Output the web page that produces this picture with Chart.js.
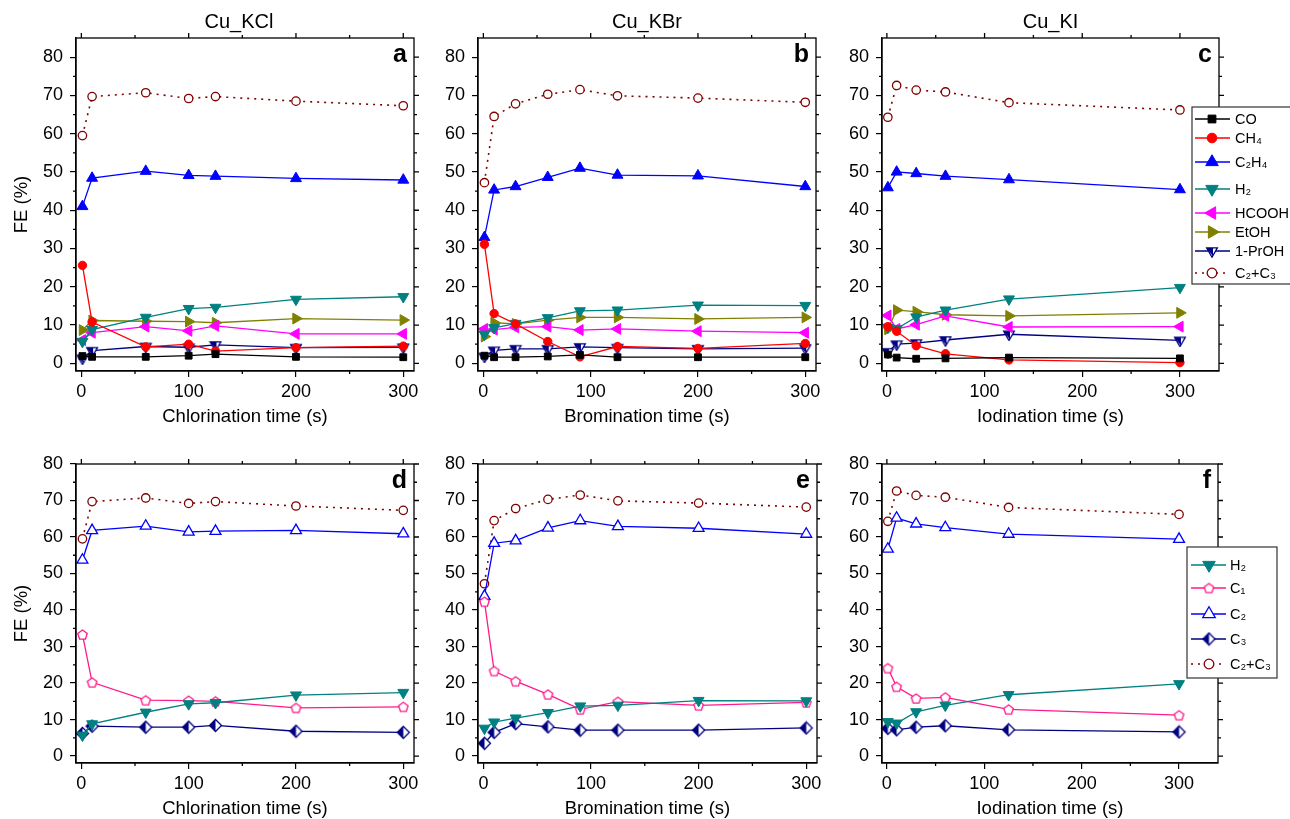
<!DOCTYPE html>
<html>
<head>
<meta charset="utf-8">
<script src="https://cdn.jsdelivr.net/npm/chart.js@4.4.1/dist/chart.umd.min.js"></script>
<style>
  html, body { margin: 0; padding: 0; background: #fff; }
  #fig { position: relative; width: 1290px; height: 819px; overflow: hidden; }
  #fig canvas { position: absolute; }
</style>
</head>
<body>
<div id="fig"></div>
<script>
// ---- data ----
const timeKCl = [1, 10, 60, 100, 125, 200, 300];
const timeKBr = [1, 10, 30, 60, 90, 125, 200, 300];
const timeKI = [1, 10, 30, 60, 125, 300];

const xTickValues = [0, 100, 200, 300];
const xTickLabels = ['0', '100', '200', '300'];
const xMinorValues = [50, 150, 250];
const yTickValues = [0, 10, 20, 30, 40, 50, 60, 70, 80];
const yTickLabels = ['0', '10', '20', '30', '40', '50', '60', '70', '80'];
const yMinorValues = [5, 15, 25, 35, 45, 55, 65, 75];

// Cu_KCl
const kclCO = [1.9, 1.7, 1.7, 2.0, 2.4, 1.7, 1.6];
const kclCH4 = [25.6, 10.8, 4.3, 5.0, 3.2, 4.1, 4.5];
const kclC2H4 = [41.0, 48.4, 50.2, 49.1, 48.9, 48.3, 47.9];
const kclH2 = [5.7, 8.8, 12.0, 14.3, 14.6, 16.7, 17.4];
const kclHCOOH = [6.1, 8.0, 9.6, 8.5, 9.8, 7.7, 7.7];
const kclEtOH = [8.7, 11.2, 11.0, 10.9, 10.6, 11.7, 11.3];
const kclPrOH = [1.3, 3.3, 4.4, 4.2, 4.8, 4.1, 4.2];
const kclC2C3 = [59.5, 69.7, 70.7, 69.2, 69.7, 68.5, 67.3];
const kclC1 = [33.3, 20.2, 15.3, 15.2, 15.0, 13.2, 13.5];
const kclC2 = [53.7, 61.8, 63.0, 61.4, 61.6, 61.8, 60.9];
const kclC3 = [6.2, 8.2, 7.9, 7.9, 8.4, 6.8, 6.5];

// Cu_KBr
const kbrCO = [2.0, 1.6, 1.6, 1.8, 2.2, 1.6, 1.6, 1.6];
const kbrCH4 = [31.1, 13.0, 10.3, 5.7, 1.7, 4.4, 3.9, 5.2];
const kbrC2H4 = [32.9, 45.3, 46.2, 48.6, 51.0, 49.2, 49.0, 46.2];
const kbrH2 = [7.6, 9.3, 10.4, 11.9, 13.7, 13.9, 15.2, 15.1];
const kbrHCOOH = [9.0, 8.8, 9.4, 9.6, 8.7, 9.0, 8.4, 8.0];
const kbrEtOH = [7.0, 10.6, 10.3, 11.3, 12.0, 12.0, 11.6, 12.0];
const kbrPrOH = [1.8, 3.4, 3.8, 3.8, 4.3, 4.1, 3.8, 4.0];
const kbrC2C3 = [47.2, 64.5, 67.8, 70.3, 71.5, 69.9, 69.3, 68.2];
const kbrC1 = [42.3, 23.3, 20.5, 16.9, 12.8, 14.9, 13.9, 14.7];
const kbrC2 = [43.8, 58.3, 59.0, 62.5, 64.5, 62.9, 62.4, 60.8];
const kbrC3 = [3.5, 6.5, 8.9, 8.0, 7.1, 7.1, 7.1, 7.7];

// Cu_KI
const kiCO = [2.3, 1.5, 1.2, 1.3, 1.5, 1.3];
const kiCH4 = [9.6, 8.4, 4.6, 2.5, 0.9, 0.2];
const kiC2H4 = [45.9, 50.0, 49.6, 48.9, 48.0, 45.4];
const kiH2 = [9.4, 9.0, 12.1, 13.9, 16.8, 19.8];
const kiHCOOH = [12.5, 9.0, 10.1, 12.4, 9.5, 9.6];
const kiEtOH = [8.9, 13.9, 13.5, 12.7, 12.4, 13.2];
const kiPrOH = [3.0, 5.0, 5.3, 6.1, 7.6, 6.0];
const kiC2C3 = [64.3, 72.6, 71.4, 70.9, 68.1, 66.2];
const kiC1 = [24.1, 19.0, 15.8, 16.1, 12.8, 11.2];
const kiC2 = [56.7, 65.2, 63.6, 62.6, 60.8, 59.4];
const kiC3 = [7.6, 7.2, 7.9, 8.3, 7.2, 6.6];

// ---- styles ----
const FONT = "'Liberation Sans', Arial, Helvetica, sans-serif";
Chart.defaults.font.family = FONT;
Chart.defaults.color = '#000';

const NAVY = '#000080';
const PINK = '#FF1A8C';

function marker(size, draw) {
  const c = document.createElement('canvas');
  c.width = size; c.height = size;
  draw(c.getContext('2d'), size / 2);
  return c;
}

const pentagon = marker(13, (g, m) => {
  g.beginPath();
  for (let i = 0; i < 5; i++) {
    const a = -Math.PI / 2 + i * 2 * Math.PI / 5;
    g.lineTo(m + 5 * Math.cos(a), m + 0.5 + 5 * Math.sin(a));
  }
  g.closePath();
  g.fillStyle = '#fff'; g.fill();
  g.lineWidth = 1.3; g.strokeStyle = PINK; g.stroke();
});

const halfDiamond = marker(15, (g, m) => {
  const r = 6;
  const path = () => { g.beginPath(); g.moveTo(m, m - r); g.lineTo(m + r, m); g.lineTo(m, m + r); g.lineTo(m - r, m); g.closePath(); };
  path(); g.fillStyle = '#fff'; g.fill();
  g.beginPath(); g.moveTo(m, m - r); g.lineTo(m, m + r); g.lineTo(m - r, m); g.closePath();
  g.fillStyle = NAVY; g.fill();
  path(); g.lineWidth = 1.3; g.strokeStyle = NAVY; g.stroke();
});

const halfTriangle = marker(14, (g, m) => {
  const r = 6.2, h = r * 0.866;
  const path = () => { g.beginPath(); g.moveTo(m - h, m - r / 2); g.lineTo(m + h, m - r / 2); g.lineTo(m, m + r); g.closePath(); };
  path(); g.fillStyle = '#fff'; g.fill();
  g.beginPath(); g.moveTo(m - h, m - r / 2); g.lineTo(m + 1, m - r / 2); g.lineTo(m + 1, m + r - 1); g.closePath();
  g.fillStyle = NAVY; g.fill();
  path(); g.lineWidth = 1.3; g.strokeStyle = NAVY; g.stroke();
});

const STYLE = {
  CO:    { label: 'CO', color: '#000000', pointStyle: 'rect', radius: 4.8, fill: '#000000' },
  CH4:   { label: 'CH\u2084', color: '#FF0000', pointStyle: 'circle', radius: 4.2, fill: '#FF0000' },
  C2H4:  { label: 'C\u2082H\u2084', color: '#0000FF', pointStyle: 'triangle', radius: 6.3, fill: '#0000FF' },
  H2:    { label: 'H\u2082', color: '#008080', pointStyle: 'triangle', rotation: 180, radius: 6.3, fill: '#008080' },
  HCOOH: { label: 'HCOOH', color: '#FF00FF', pointStyle: 'triangle', rotation: 270, radius: 6.3, fill: '#FF00FF' },
  EtOH:  { label: 'EtOH', color: '#808000', pointStyle: 'triangle', rotation: 90, radius: 6.3, fill: '#808000' },
  PrOH:  { label: '1-PrOH', color: NAVY, pointStyle: halfTriangle, radius: 6, fill: NAVY },
  C2C3:  { label: 'C\u2082+C\u2083', color: '#800000', pointStyle: 'circle', radius: 4.2, fill: '#FFFFFF', dash: [2, 5], width: 1.6 },
  C1:    { label: 'C\u2081', color: PINK, pointStyle: pentagon, radius: 6, fill: '#FFFFFF' },
  C2:    { label: 'C\u2082', color: '#0000FF', pointStyle: 'triangle', radius: 6.3, fill: '#FFFFFF' },
  C3:    { label: 'C\u2083', color: NAVY, pointStyle: halfDiamond, radius: 6, fill: NAVY }
};

function dataset(key, time, values) {
  const s = STYLE[key];
  return {
    label: s.label,
    data: time.map((t, i) => ({ x: t, y: values[i] })),
    borderColor: s.color,
    backgroundColor: s.fill,
    borderWidth: s.width || 1.3,
    borderDash: s.dash || [],
    pointStyle: s.pointStyle,
    pointRotation: s.rotation || 0,
    pointRadius: s.radius,
    pointBackgroundColor: s.fill,
    pointBorderColor: s.color,
    pointBorderWidth: s.fill === '#FFFFFF' ? 1.3 : 1,
    tension: 0,
    clip: false
  };
}

// frame, minor ticks and panel texts
const framePlugin = {
  id: 'frame',
  afterDraw(chart, args, o) {
    const { ctx, chartArea: a } = chart;
    const x = chart.scales.x, y = chart.scales.y;
    ctx.save();
    ctx.strokeStyle = '#000';
    ctx.lineWidth = 1.3;
    ctx.strokeRect(a.left, a.top, a.right - a.left, a.bottom - a.top);
    ctx.beginPath();
    xTickValues.forEach(v => { const p = x.getPixelForValue(v); ctx.moveTo(p, a.top); ctx.lineTo(p, a.top - 5); });
    xMinorValues.forEach(v => {
      const p = x.getPixelForValue(v);
      ctx.moveTo(p, a.bottom); ctx.lineTo(p, a.bottom + 3);
      ctx.moveTo(p, a.top); ctx.lineTo(p, a.top - 3);
    });
    yTickValues.forEach(v => { const p = y.getPixelForValue(v); ctx.moveTo(a.right, p); ctx.lineTo(a.right + 5, p); });
    yMinorValues.forEach(v => {
      const p = y.getPixelForValue(v);
      ctx.moveTo(a.left, p); ctx.lineTo(a.left - 3, p);
      ctx.moveTo(a.right, p); ctx.lineTo(a.right + 3, p);
    });
    ctx.stroke();

    ctx.fillStyle = '#000';
    const cx = (a.left + a.right) / 2;
    ctx.textBaseline = 'middle';
    if (o.letter) {
      ctx.font = 'bold 25px ' + FONT;
      ctx.textAlign = 'right';
      ctx.fillText(o.letter, a.right - 7, a.top + 17);
    }
    ctx.textAlign = 'center';
    if (o.title) {
      ctx.font = '20px ' + FONT;
      ctx.fillText(o.title, cx + (o.titleShift || 0), a.top - 16);
    }
    if (o.xTitle) {
      ctx.font = '18.5px ' + FONT;
      ctx.fillText(o.xTitle, cx, a.bottom + 45.5);
    }
    if (o.yTitle) {
      ctx.save();
      ctx.translate(o.yTitleX, (a.top + a.bottom) / 2);
      ctx.rotate(-Math.PI / 2);
      ctx.font = '18.5px ' + FONT;
      ctx.fillText(o.yTitle, 0, 0);
      ctx.restore();
    }
    ctx.restore();
  }
};

// boxed legend that may sit over the frame
const boxLegendPlugin = {
  id: 'boxLegend',
  afterDraw(chart, args, o) {
    if (!o.box) return;
    const { ctx } = chart;
    const b = o.box;
    ctx.save();
    ctx.fillStyle = '#fff';
    ctx.fillRect(b.x, b.y, b.w, b.h);
    ctx.strokeStyle = '#333';
    ctx.lineWidth = 1.2;
    ctx.strokeRect(b.x, b.y, b.w, b.h);
    chart.data.datasets.forEach((ds, i) => {
      const yy = o.itemY[i];
      ctx.strokeStyle = ds.borderColor;
      ctx.lineWidth = ds.borderWidth;
      ctx.setLineDash(ds.borderDash);
      ctx.beginPath();
      ctx.moveTo(b.x + o.lineFrom, yy);
      ctx.lineTo(b.x + o.lineTo, yy);
      ctx.stroke();
      ctx.setLineDash([]);
      ctx.fillStyle = ds.pointBackgroundColor;
      ctx.strokeStyle = ds.pointBorderColor;
      ctx.lineWidth = ds.pointBorderWidth;
      Chart.helpers.drawPoint(ctx, {
        pointStyle: ds.pointStyle, rotation: ds.pointRotation,
        radius: ds.pointRadius * 1.15, borderWidth: ds.pointBorderWidth
      }, b.x + o.markX, yy);
      ctx.fillStyle = '#000';
      ctx.font = '14.5px ' + FONT;
      ctx.textAlign = 'left';
      ctx.textBaseline = 'middle';
      ctx.fillText(ds.label, b.x + o.textX, yy + 1);
    });
    ctx.restore();
  }
};

const fig = document.getElementById('fig');

function panel(p) {
  const cv = document.createElement('canvas');
  cv.width = p.w; cv.height = p.h;
  cv.style.left = p.x0 + 'px';
  cv.style.top = p.y0 + 'px';
  fig.appendChild(cv);
  new Chart(cv, {
    type: 'line',
    data: { datasets: p.series.map(s => dataset(s[0], p.time, s[1])) },
    options: {
      responsive: false,
      animation: false,
      events: [],
      layout: { padding: { left: 0, top: p.padTop, right: p.padRight, bottom: 0 } },
      plugins: {
        legend: { display: false },
        tooltip: { enabled: false },
        frame: p.text,
        boxLegend: p.legend || {}
      },
      scales: {
        x: {
          type: 'linear', min: p.xMin, max: p.xMax,
          afterBuildTicks: s => { s.ticks = xTickValues.map(v => ({ value: v })); },
          afterFit: s => { s.height = p.xH; },
          ticks: {
            autoSkip: false, maxRotation: 0, padding: 4, color: '#000',
            font: { size: 18 },
            callback: v => xTickLabels[xTickValues.indexOf(v)]
          },
          grid: { drawOnChartArea: false, tickLength: 6, color: '#000', lineWidth: 1.2 },
          border: { color: '#000', width: 1.3 }
        },
        y: {
          type: 'linear', min: p.yMin, max: p.yMax,
          afterBuildTicks: s => { s.ticks = yTickValues.map(v => ({ value: v })); },
          afterFit: s => { s.width = p.yW; },
          ticks: {
            autoSkip: false, padding: 7, color: '#000',
            font: { size: 18 },
            callback: v => yTickLabels[yTickValues.indexOf(v)]
          },
          grid: { drawOnChartArea: false, tickLength: 6, color: '#000', lineWidth: 1.2 },
          border: { color: '#000', width: 1.3 }
        }
      }
    },
    plugins: [framePlugin, boxLegendPlugin]
  });
}

const TOP = { y0: 0, h: 440, padTop: 38, xH: 69, yMin: -2, yMax: 85 };
const BOT = { y0: 440, h: 379, padTop: 24, xH: 56, yMin: -1.9, yMax: 80 };

panel(Object.assign({}, TOP, {
  x0: 0, w: 430, yW: 76, padRight: 16, xMin: -5, xMax: 310, time: timeKCl,
  text: { title: 'Cu_KCl', titleShift: -6, letter: 'a', xTitle: 'Chlorination time (s)', yTitle: 'FE (%)', yTitleX: 22 },
  series: [['CO', kclCO], ['CH4', kclCH4], ['C2H4', kclC2H4], ['H2', kclH2], ['HCOOH', kclHCOOH], ['EtOH', kclEtOH], ['PrOH', kclPrOH], ['C2C3', kclC2C3]]
}));
panel(Object.assign({}, TOP, {
  x0: 430, w: 410, yW: 48, padRight: 24, xMin: -5, xMax: 310, time: timeKBr,
  text: { title: 'Cu_KBr', letter: 'b', xTitle: 'Bromination time (s)' },
  series: [['CO', kbrCO], ['CH4', kbrCH4], ['C2H4', kbrC2H4], ['H2', kbrH2], ['HCOOH', kbrHCOOH], ['EtOH', kbrEtOH], ['PrOH', kbrPrOH], ['C2C3', kbrC2C3]]
}));
panel(Object.assign({}, TOP, {
  x0: 840, w: 450, yW: 42, padRight: 71, xMin: -5, xMax: 340, time: timeKI,
  text: { title: 'Cu_KI', letter: 'c', xTitle: 'Iodination time (s)' },
  legend: { box: { x: 352, y: 107, w: 115, h: 177 }, itemY: [119, 138, 162, 189, 213, 232, 251, 273], lineFrom: 3, lineTo: 38, markX: 20, textX: 43 },
  series: [['CO', kiCO], ['CH4', kiCH4], ['C2H4', kiC2H4], ['H2', kiH2], ['HCOOH', kiHCOOH], ['EtOH', kiEtOH], ['PrOH', kiPrOH], ['C2C3', kiC2C3]]
}));
panel(Object.assign({}, BOT, {
  x0: 0, w: 430, yW: 76, padRight: 16, xMin: -5, xMax: 310, time: timeKCl,
  text: { letter: 'd', xTitle: 'Chlorination time (s)', yTitle: 'FE (%)', yTitleX: 22 },
  series: [['H2', kclH2], ['C1', kclC1], ['C2', kclC2], ['C3', kclC3], ['C2C3', kclC2C3]]
}));
panel(Object.assign({}, BOT, {
  x0: 430, w: 410, yW: 48, padRight: 23, xMin: -5, xMax: 310, time: timeKBr,
  text: { letter: 'e', xTitle: 'Bromination time (s)' },
  series: [['H2', kbrH2], ['C1', kbrC1], ['C2', kbrC2], ['C3', kbrC3], ['C2C3', kbrC2C3]]
}));
panel(Object.assign({}, BOT, {
  x0: 840, w: 450, yW: 42, padRight: 72, xMin: -5, xMax: 340, time: timeKI,
  text: { letter: 'f', xTitle: 'Iodination time (s)' },
  legend: { box: { x: 347, y: 107, w: 90, h: 131 }, itemY: [125, 148, 174, 199, 224], lineFrom: 4, lineTo: 39, markX: 22, textX: 43 },
  series: [['H2', kiH2], ['C1', kiC1], ['C2', kiC2], ['C3', kiC3], ['C2C3', kiC2C3]]
}));
</script>
</body>
</html>
